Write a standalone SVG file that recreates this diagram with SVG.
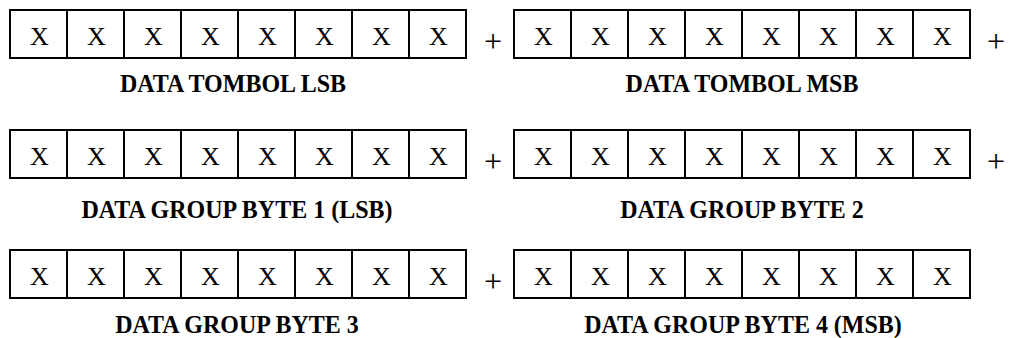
<svg xmlns="http://www.w3.org/2000/svg" width="1011" height="338" viewBox="0 0 1011 338">
  <style>
    .frame { fill: #ffffff; stroke: #000000; stroke-width: 2; }
    .div { stroke: #000000; stroke-width: 2; }
    .bit { font-family: "Liberation Serif", "Times New Roman", serif; font-size: 26px; text-anchor: middle; fill: #000000; }
    .cap { font-family: "Liberation Serif", "Times New Roman", serif; font-size: 24px; font-weight: bold; text-anchor: middle; fill: #000000; }
    .op { font-family: "Liberation Serif", "Times New Roman", serif; font-size: 32px; text-anchor: middle; fill: #000000; }
  </style>
  <defs>
    <!-- 8-cell byte frame, 456 x 48 -->
    <g id="byteFrame">
      <rect class="frame" x="0" y="0" width="456" height="48"/>
      <path class="div" d="M57 0V48M114 0V48M171 0V48M228 0V48M285 0V48M342 0V48M399 0V48"/>
    </g>
  </defs>
  <rect width="1011" height="338" fill="#ffffff"/>

  <!-- Row 1 -->
  <g id="tombol-lsb">
    <use href="#byteFrame" x="10" y="10"/>
    <text class="bit" y="44.5"><tspan x="39.5">X</tspan><tspan x="96.5">X</tspan><tspan x="153.5">X</tspan><tspan x="210.5">X</tspan><tspan x="267.5">X</tspan><tspan x="324.5">X</tspan><tspan x="381.5">X</tspan><tspan x="438.5">X</tspan></text>
    <text class="cap" transform="translate(233,92) scale(1,1.08)">DATA TOMBOL LSB</text>
  </g>
  <g id="tombol-msb">
    <use href="#byteFrame" x="514" y="10"/>
    <text class="bit" y="44.5"><tspan x="543.5">X</tspan><tspan x="600.5">X</tspan><tspan x="657.5">X</tspan><tspan x="714.5">X</tspan><tspan x="771.5">X</tspan><tspan x="828.5">X</tspan><tspan x="885.5">X</tspan><tspan x="942.5">X</tspan></text>
    <text class="cap" transform="translate(742,92) scale(1,1.08)">DATA TOMBOL MSB</text>
  </g>

  <!-- Row 2 -->
  <g id="group-byte-1">
    <use href="#byteFrame" x="10" y="130"/>
    <text class="bit" y="164.5"><tspan x="39.5">X</tspan><tspan x="96.5">X</tspan><tspan x="153.5">X</tspan><tspan x="210.5">X</tspan><tspan x="267.5">X</tspan><tspan x="324.5">X</tspan><tspan x="381.5">X</tspan><tspan x="438.5">X</tspan></text>
    <text class="cap" transform="translate(237,217.5) scale(1,1.08)">DATA GROUP BYTE 1 (LSB)</text>
  </g>
  <g id="group-byte-2">
    <use href="#byteFrame" x="514" y="130"/>
    <text class="bit" y="164.5"><tspan x="543.5">X</tspan><tspan x="600.5">X</tspan><tspan x="657.5">X</tspan><tspan x="714.5">X</tspan><tspan x="771.5">X</tspan><tspan x="828.5">X</tspan><tspan x="885.5">X</tspan><tspan x="942.5">X</tspan></text>
    <text class="cap" transform="translate(742,217.5) scale(1,1.08)">DATA GROUP BYTE 2</text>
  </g>

  <!-- Row 3 -->
  <g id="group-byte-3">
    <use href="#byteFrame" x="10" y="250"/>
    <text class="bit" y="284.5"><tspan x="39.5">X</tspan><tspan x="96.5">X</tspan><tspan x="153.5">X</tspan><tspan x="210.5">X</tspan><tspan x="267.5">X</tspan><tspan x="324.5">X</tspan><tspan x="381.5">X</tspan><tspan x="438.5">X</tspan></text>
    <text class="cap" transform="translate(237,332.5) scale(1,1.08)">DATA GROUP BYTE 3</text>
  </g>
  <g id="group-byte-4">
    <use href="#byteFrame" x="514" y="250"/>
    <text class="bit" y="284.5"><tspan x="543.5">X</tspan><tspan x="600.5">X</tspan><tspan x="657.5">X</tspan><tspan x="714.5">X</tspan><tspan x="771.5">X</tspan><tspan x="828.5">X</tspan><tspan x="885.5">X</tspan><tspan x="942.5">X</tspan></text>
    <text class="cap" transform="translate(743,332.5) scale(1,1.08)">DATA GROUP BYTE 4 (MSB)</text>
  </g>

  <!-- Concatenation operators between bytes -->
  <g id="connectors">
    <text class="op" x="493" y="52">+</text>
    <text class="op" x="996" y="52">+</text>
    <text class="op" x="493" y="172">+</text>
    <text class="op" x="996" y="172">+</text>
    <text class="op" x="493" y="292">+</text>
  </g>
</svg>
